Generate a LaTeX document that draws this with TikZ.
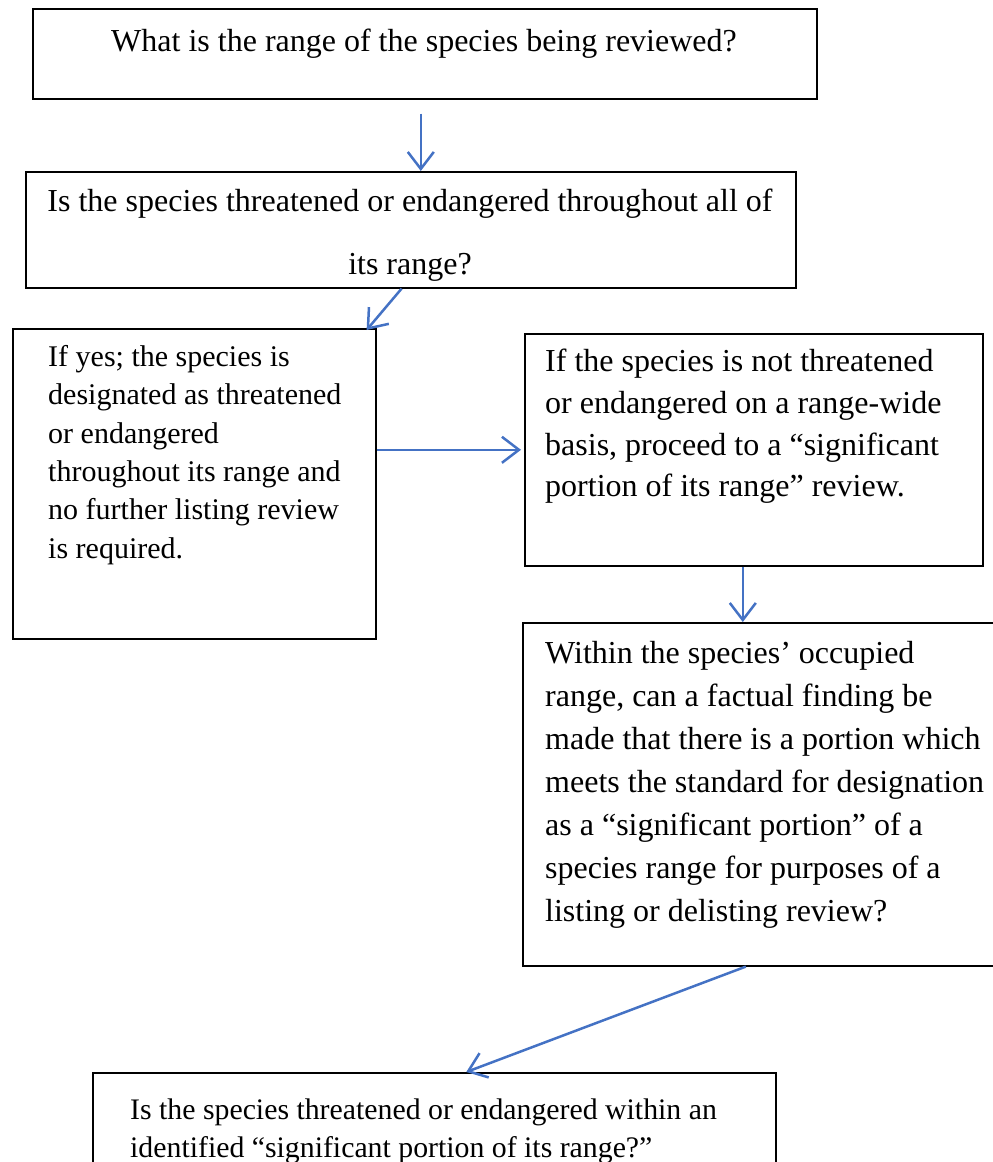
\documentclass[tikz,border=0pt]{standalone}
\usepackage{fontspec}
\setmainfont{Liberation Serif}
\usepackage{xcolor}
\usetikzlibrary{arrows.meta}
\definecolor{flowblue}{RGB}{68,114,196}

\begin{document}
\begin{tikzpicture}[x=1pt, y=-1pt,
	>={Straight Barb[length=17pt,width=26pt]},
    panel/.style = {rectangle, draw=black, line width=1.6pt,
                    inner sep=0pt, anchor=north west},
    words/.style = {inner sep=0pt, anchor=north west, align=left,
                    font=\fontsize{32}{42.6}\selectfont},
    smallwords/.style = {words, font=\fontsize{30}{38.4}\selectfont},
    flow/.style = {->, draw=flowblue, line width=2.5pt}]
  \useasboundingbox (0,0) rectangle (993,1162);

  \node (box1) [panel, minimum width=784pt, minimum height=90pt] at (32,8) {};
  \node (box2) [panel, minimum width=770pt, minimum height=116pt] at (25,171) {};
  \node (box3) [panel, minimum width=363pt, minimum height=310pt] at (12,328) {};
  \node (box4) [panel, minimum width=458pt, minimum height=232pt] at (524,333) {};
  \node (box5) [panel, minimum width=478pt, minimum height=343pt] at (522,622) {};
  \node (box6) [panel, minimum width=683pt, minimum height=98pt] at (92,1072) {};

  \node (txt1) [words, anchor=north, align=center] at (424,29)
    {What is the range of the species being reviewed?};
  \node (txt2) [words, anchor=north, align=center] at (410,189)
    {Is the species threatened or endangered throughout all of\\[20pt] its range?};
  \node (txt3) [smallwords] at (48,345)
    {If yes; the species is\\ designated as threatened\\ or endangered\\
     throughout its range and\\ no further listing review\\ is required.};
  \node (txt4) [words, font=\fontsize{32}{41.7}\selectfont] at (545,349)
    {If the species is not threatened\\ or endangered on a range-wide\\
     basis, proceed to a “significant\\ portion of its range” review.};
  \node (txt5) [words, font=\fontsize{32}{43}\selectfont] at (545,641)
    {Within the species’ occupied\\ range, can a factual finding be\\
     made that there is a portion which\\ meets the standard for designation\\
     as a “significant portion” of a\\ species range for purposes of a\\
     listing or delisting review?};
  \node (txt6) [smallwords, font=\fontsize{29.8}{38}\selectfont] at (130,1099)
    {Is the species threatened or endangered within an\\
     identified “significant portion of its range?”};

  \draw[flow] ([xshift=-4pt,yshift=-14pt]box1.south) -- ([xshift=10pt]box2.north);
  \draw[flow] ([xshift=-395pt]box2.south east) -- ([xshift=-10pt,yshift=-2pt]box3.north east);
  \draw[flow] (box3.east |- box4.west) -- ([xshift=-3pt]box4.west);
  \draw[flow] ([xshift=-11pt]box4.south) -- ([xshift=-11pt]box4.south |- box5.north);
  \draw[flow] ([xshift=-16pt]box5.south) -- ([xshift=32pt]box6.north);
\end{tikzpicture}
\end{document}
